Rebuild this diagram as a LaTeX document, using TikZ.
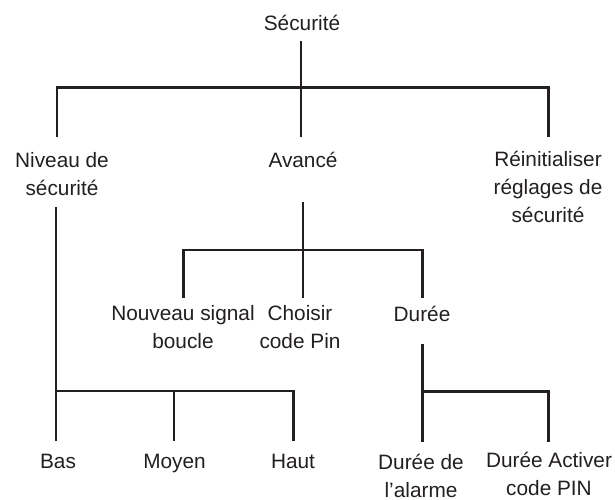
\documentclass[tikz,border=0pt]{standalone}
\usepackage{fontspec}
\setmainfont{Liberation Sans}
\definecolor{ink}{HTML}{231F20}
\begin{document}
\begin{tikzpicture}[x=1pt,y=-1pt,
  lbl/.style={anchor=base,align=center,inner sep=0pt,text=ink,
    font={\fontsize{20.8}{28}\selectfont}},
  conn/.style={draw=ink,line width=2.4pt}]
\useasboundingbox (0,0) rectangle (615,500);
% nodes (base anchor = baseline of the last line)
\node[lbl] (sec) at (302,31) {Sécurité};
\node[lbl] (niv) at (62,195) {Niveau de\\sécurité};
\node[lbl] (av) at (303,167) {Avancé};
\node[lbl] (rei) at (548,222) {Réinitialiser\\réglages de\\sécurité};
\node[lbl] (nsb) at (183,348) {Nouveau signal\\boucle};
\node[lbl] (cho) at (300,348) {Choisir\\code Pin};
\node[lbl] (dur) at (422,321) {Durée};
\node[lbl] (bas) at (58,468) {Bas};
\node[lbl] (moy) at (174.5,468) {Moyen};
\node[lbl] (hau) at (293,468) {Haut};
\node[lbl] (dd) at (421,497) {Durée de\\l'alarme};
\node[lbl] (da) at (549,495) {Durée Activer\\code PIN};
% junction coordinates
\coordinate (j0) at (301,87.5);
\coordinate (nivT) at (56.7,137);
\coordinate (reiT) at (548.3,137);
\coordinate (j1) at (303,250);
\coordinate (nsbT) at (183.3,298);
\coordinate (choT) at (303,298);
\coordinate (durT) at (422.3,298);
\coordinate (j2) at (56,390.7);
\coordinate (basT) at (56,441);
\coordinate (moyT) at (174,441);
\coordinate (hauT) at (293.3,441);
\coordinate (j3) at (422.5,391.5);
\coordinate (ddT) at (422.5,441.5);
\coordinate (daT) at (548.3,441.5);
% level 1
\draw[conn] ([yshift=-10pt]sec.base -| j0) -- (j0 |- nivT);
\draw[conn] (nivT) -- (nivT |- j0) -- (reiT |- j0) -- (reiT);
% Niveau de securite
\draw[conn] ([yshift=-12pt]niv.base -| j2) -- (j2);
\draw[conn] (basT) -- (basT |- j2) -- (hauT |- j2) -- (hauT);
\draw[conn] (moyT |- j2) -- (moyT);
% Avance
\draw[conn] ([yshift=-35pt]av.base -| j1) -- (j1);
\draw[conn] (nsbT) -- (nsbT |- j1) -- (durT |- j1) -- (durT);
\draw[conn] (j1) -- (choT);
% Duree
\draw[conn] ([yshift=-23pt]dur.base -| j3) -- (j3);
\draw[conn] (ddT) -- (ddT |- j3) -- (daT |- j3) -- (daT);
\end{tikzpicture}
\end{document}
